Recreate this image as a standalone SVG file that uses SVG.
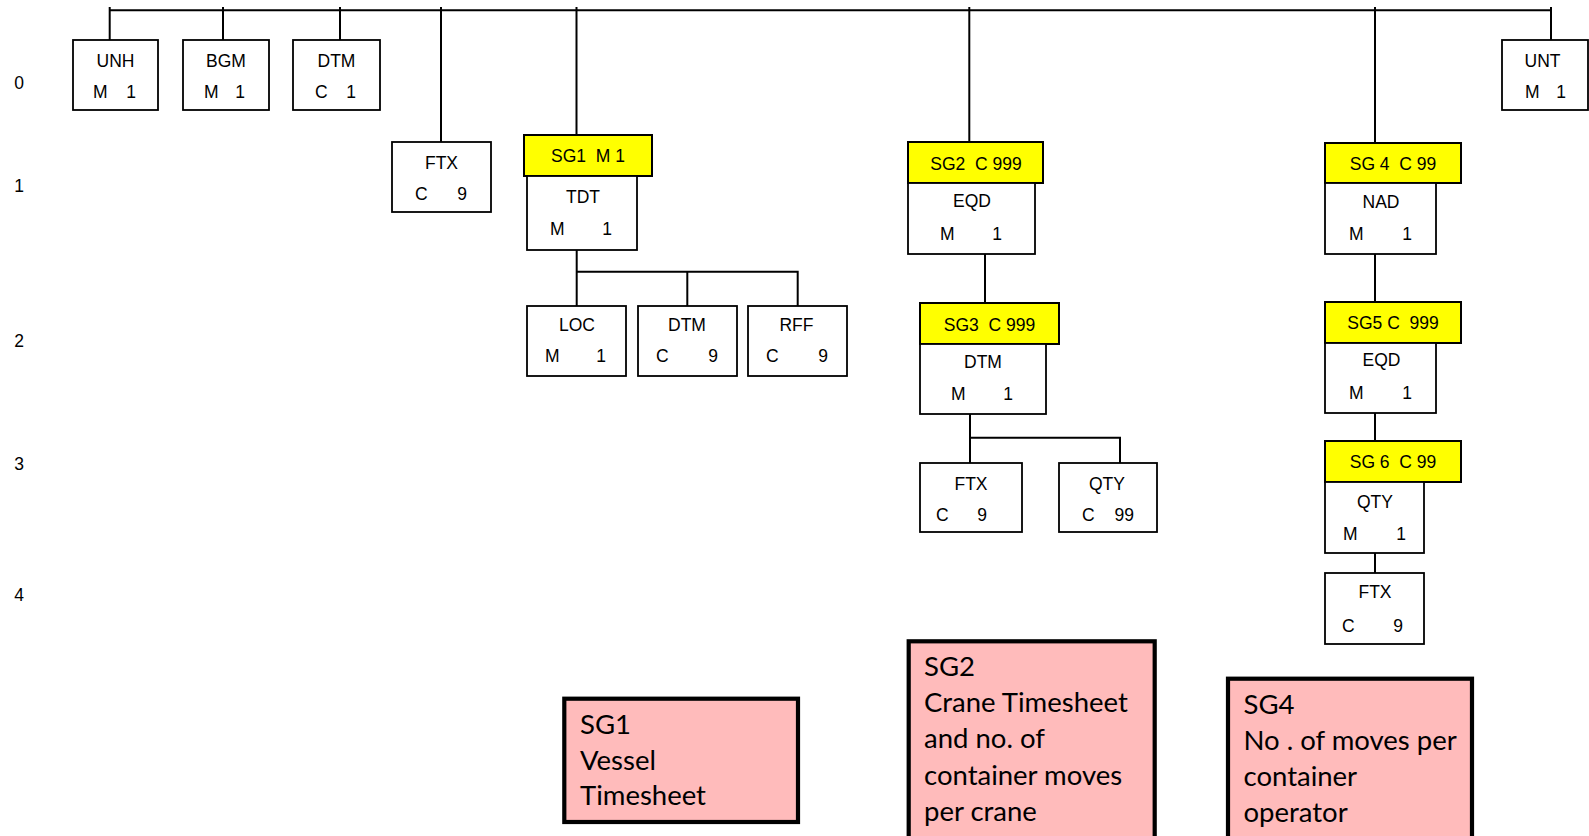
<svg xmlns="http://www.w3.org/2000/svg" width="1589" height="836" viewBox="0 0 1589 836">
<style>
.b{fill:#fff;stroke:#000;stroke-width:1.8}
.y{fill:#ffff00;stroke:#000;stroke-width:2}
.p{fill:#ffbbbb;stroke:#000;stroke-width:4.2}
text{font-family:"Liberation Sans",Arial,sans-serif;font-size:17.5px;fill:#000}
.c{text-anchor:middle}
.e{text-anchor:end}
.n{font-family:Lato,"Open Sans",sans-serif;font-size:27.5px}
#conn line,#conn polyline{stroke:#000;stroke-width:2;fill:none}
</style>
<g id="conn">
<line x1="109.7" y1="10.3" x2="1551" y2="10.3"/>
<line x1="109.7" y1="7" x2="109.7" y2="40"/>
<line x1="223" y1="7" x2="223" y2="40"/>
<line x1="340" y1="7" x2="340" y2="40"/>
<line x1="441" y1="7" x2="441" y2="142"/>
<line x1="576.5" y1="7" x2="576.5" y2="135"/>
<line x1="969.3" y1="7" x2="969.3" y2="142"/>
<line x1="1375" y1="7" x2="1375" y2="143"/>
<line x1="1551" y1="7" x2="1551" y2="40"/>
<line x1="576.7" y1="250" x2="576.7" y2="306"/>
<polyline points="576.7,271.7 797.7,271.7 797.7,306"/>
<line x1="687.3" y1="271.7" x2="687.3" y2="306"/>
<line x1="985" y1="249" x2="985" y2="303"/>
<line x1="970" y1="414" x2="970" y2="463"/>
<polyline points="970,437.7 1120,437.7 1120,463"/>
<line x1="1375" y1="245" x2="1375" y2="302"/>
<line x1="1375" y1="413" x2="1375" y2="441"/>
<line x1="1375" y1="553" x2="1375" y2="573"/>
</g>
<g id="levels">
<text x="19" y="89" class="c">0</text>
<text x="19" y="191.5" class="c">1</text>
<text x="19" y="346.5" class="c">2</text>
<text x="19" y="470" class="c">3</text>
<text x="19" y="601" class="c">4</text>
</g>
<g id="unh"><rect class="b" x="73" y="40" width="85" height="70"/><text x="115.5" y="66.5" class="c">UNH</text><text x="93" y="98">M</text><text x="136" y="98" class="e">1</text></g>
<g id="bgm"><rect class="b" x="183" y="40" width="86" height="70"/><text x="226" y="66.5" class="c">BGM</text><text x="204" y="98">M</text><text x="245" y="98" class="e">1</text></g>
<g id="dtm0"><rect class="b" x="293" y="40" width="87" height="70"/><text x="336.5" y="66.5" class="c">DTM</text><text x="315" y="98">C</text><text x="356" y="98" class="e">1</text></g>
<g id="ftx1"><rect class="b" x="392" y="142" width="99" height="70"/><text x="441.5" y="168.5" class="c">FTX</text><text x="415" y="200">C</text><text x="467" y="200" class="e">9</text></g>
<g id="sg1"><rect class="y" x="524" y="135" width="128" height="41"/><text x="588" y="162" class="c" xml:space="preserve">SG1  M 1</text></g>
<g id="tdt"><rect class="b" x="527" y="176" width="110" height="74"/><text x="583" y="203" class="c">TDT</text><text x="550" y="235">M</text><text x="612" y="235" class="e">1</text></g>
<g id="loc"><rect class="b" x="527" y="306" width="99" height="70"/><text x="577" y="331" class="c">LOC</text><text x="545" y="362">M</text><text x="606" y="362" class="e">1</text></g>
<g id="dtm2"><rect class="b" x="638" y="306" width="99" height="70"/><text x="687" y="331" class="c">DTM</text><text x="656" y="362">C</text><text x="718" y="362" class="e">9</text></g>
<g id="rff"><rect class="b" x="748" y="306" width="99" height="70"/><text x="796.5" y="331" class="c">RFF</text><text x="766" y="362">C</text><text x="828" y="362" class="e">9</text></g>
<g id="sg2"><rect class="y" x="908" y="142" width="135" height="41"/><text x="976" y="170" class="c" xml:space="preserve">SG2  C 999</text></g>
<g id="eqd"><rect class="b" x="908" y="183" width="127" height="71"/><text x="972" y="207" class="c">EQD</text><text x="940" y="240">M</text><text x="1002" y="240" class="e">1</text></g>
<g id="sg3"><rect class="y" x="920" y="303" width="139" height="41"/><text x="989.5" y="331" class="c" xml:space="preserve">SG3  C 999</text></g>
<g id="dtm3"><rect class="b" x="920" y="344" width="126" height="70"/><text x="983" y="368" class="c">DTM</text><text x="951" y="400">M</text><text x="1013" y="400" class="e">1</text></g>
<g id="ftx3"><rect class="b" x="920" y="463" width="102" height="69"/><text x="971" y="489.5" class="c">FTX</text><text x="936" y="521">C</text><text x="987" y="521" class="e">9</text></g>
<g id="qty3"><rect class="b" x="1059" y="463" width="98" height="69"/><text x="1107" y="489.5" class="c">QTY</text><text x="1082" y="521">C</text><text x="1134" y="521" class="e">99</text></g>
<g id="sg4"><rect class="y" x="1325" y="143" width="136" height="40"/><text x="1393" y="170" class="c" xml:space="preserve">SG 4  C 99</text></g>
<g id="nad"><rect class="b" x="1325" y="183" width="111" height="71"/><text x="1381" y="207.5" class="c">NAD</text><text x="1349" y="240">M</text><text x="1412" y="240" class="e">1</text></g>
<g id="sg5"><rect class="y" x="1325" y="302" width="136" height="41"/><text x="1393" y="329" class="c" xml:space="preserve">SG5 C  999</text></g>
<g id="eqd5"><rect class="b" x="1325" y="343" width="111" height="70"/><text x="1381.5" y="366" class="c">EQD</text><text x="1349" y="399">M</text><text x="1412" y="399" class="e">1</text></g>
<g id="sg6"><rect class="y" x="1325" y="441" width="136" height="41"/><text x="1393" y="468.3" class="c" xml:space="preserve">SG 6  C 99</text></g>
<g id="qty6"><rect class="b" x="1325" y="482" width="99" height="71"/><text x="1375" y="508.3" class="c">QTY</text><text x="1343" y="540">M</text><text x="1406" y="540" class="e">1</text></g>
<g id="ftx6"><rect class="b" x="1325" y="573" width="99" height="71"/><text x="1375" y="598.3" class="c">FTX</text><text x="1342" y="631.7">C</text><text x="1403" y="631.7" class="e">9</text></g>
<g id="unt"><rect class="b" x="1502" y="40" width="86" height="70"/><text x="1542.5" y="66.5" class="c">UNT</text><text x="1525" y="98">M</text><text x="1566" y="98" class="e">1</text></g>
<g id="note1"><rect class="p" x="564.3" y="698.7" width="233.7" height="123.3"/><text class="n" x="580" y="733.5">SG1</text><text class="n" x="580" y="769.5">Vessel</text><text class="n" x="580" y="805">Timesheet</text></g>
<g id="note2"><rect class="p" x="908.7" y="641.3" width="246" height="220"/><text class="n" x="924" y="676">SG2</text><text class="n" x="924" y="712">Crane Timesheet</text><text class="n" x="924" y="748.3">and no. of</text><text class="n" x="924" y="784.5">container moves</text><text class="n" x="924" y="820.5">per crane</text></g>
<g id="note4"><rect class="p" x="1228" y="678.7" width="244" height="200"/><text class="n" x="1243.5" y="714">SG4</text><text class="n" x="1243.5" y="750">No . of moves per</text><text class="n" x="1243.5" y="786">container</text><text class="n" x="1243.5" y="822">operator</text></g>
</svg>
